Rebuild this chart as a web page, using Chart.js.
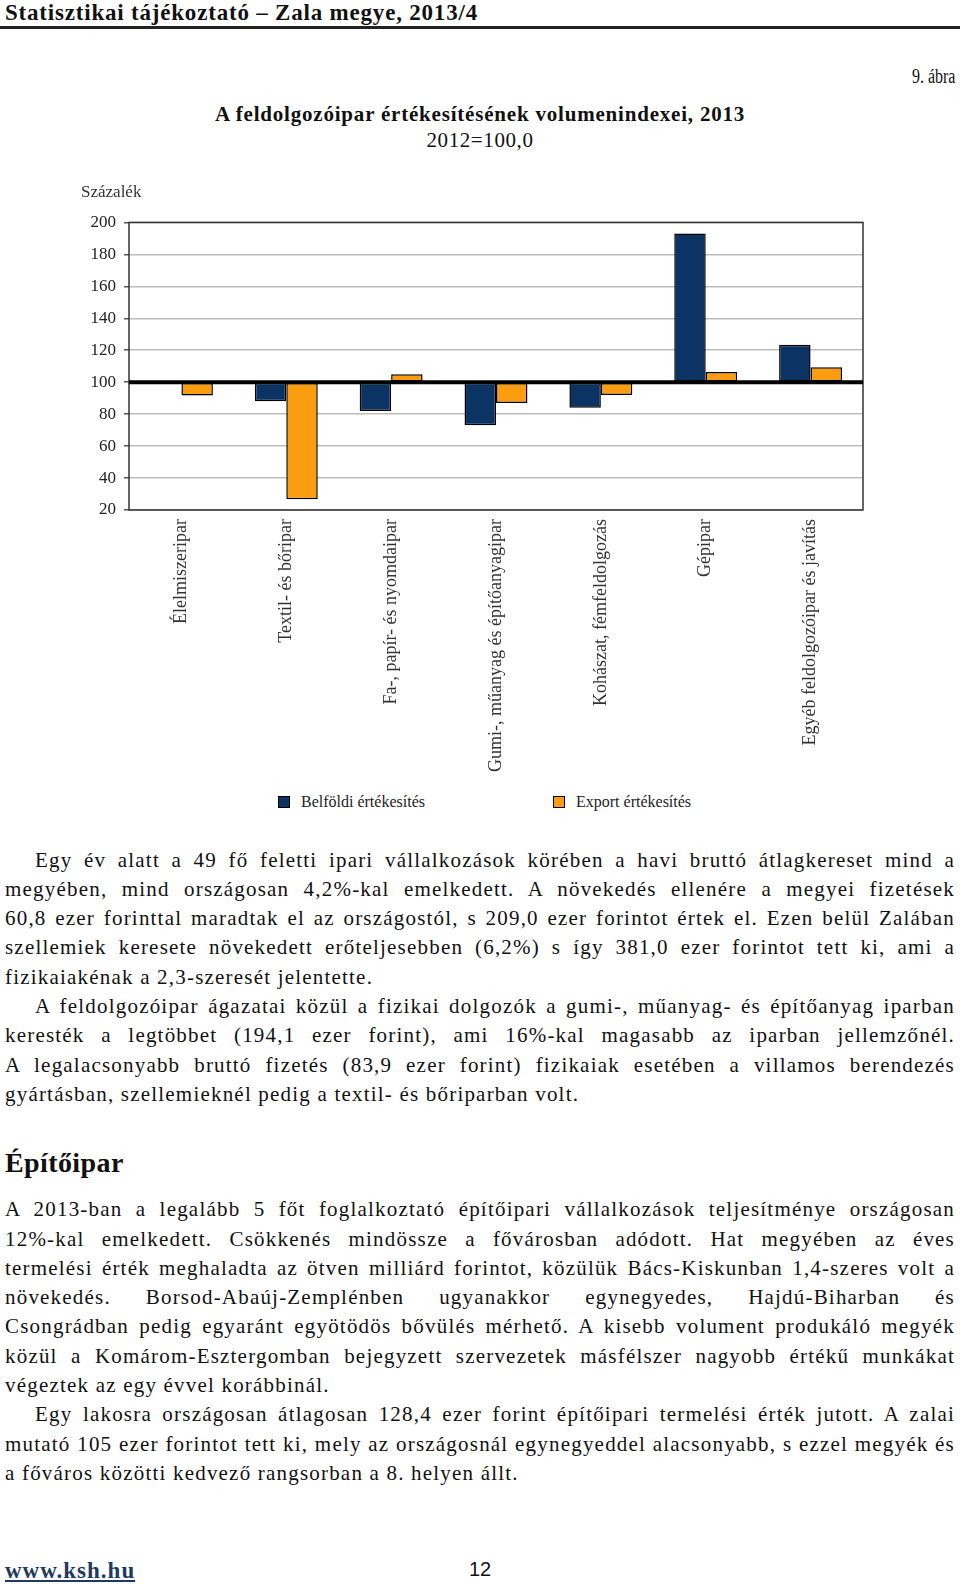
<!DOCTYPE html>
<html lang="hu">
<head>
<meta charset="utf-8">
<title>A feldolgozóipar értékesítésének volumenindexei, 2013</title>
<script src="https://cdn.jsdelivr.net/npm/chart.js@4.4.1/dist/chart.umd.min.js"></script>
<style>
  html, body { margin: 0; padding: 0; background: #fff; }
  body { width: 960px; height: 1585px; position: relative; overflow: hidden; font-family: 'Liberation Serif', serif; color: #111; }
  .abs { position: absolute; line-height: 1; white-space: nowrap; }
  #head { left: 5px; top: 1px; font-size: 23px; font-weight: bold; letter-spacing: 0.8px; }
  #rule { position: absolute; left: 0; top: 26px; width: 960px; height: 2.5px; background: #222; }
  #fig { right: 5px; top: 66px; font-size: 20px; transform: scaleX(0.8); transform-origin: right center; }
  #title { left: 0; width: 960px; text-align: center; top: 104px; font-size: 21px; font-weight: bold; letter-spacing: 0.8px; }
  #sub { left: 0; width: 960px; text-align: center; top: 130px; font-size: 21px; letter-spacing: 0.6px; }
  #chart { position: absolute; left: 60px; top: 175px; }
  #legend { position: absolute; left: 278px; top: 793px; display: flex; font-size: 16px; color: #222; }
  #legend .item { width: 275px; display: flex; align-items: center; }
  #legend .box { width: 10px; height: 10px; border: 1px solid #000; margin-right: 11px; }
  .txt { position: absolute; left: 5px; width: 950px; font-size: 21px; letter-spacing: 1.2px; line-height: 29.3px; }
  .txt div { white-space: nowrap; }
  .txt .j { text-align: justify; text-align-last: justify; }
  .txt .i { padding-left: 30px; }
  #h2 { left: 5px; top: 1149px; font-size: 28px; font-weight: bold; letter-spacing: 0.4px; }
  #www { left: 5px; top: 1559px; font-size: 23px; font-weight: bold; color: #1f3a60; text-decoration: underline; letter-spacing: 1px; }
  #page { left: 0; width: 960px; text-align: center; top: 1559px; font-family: 'Liberation Sans', sans-serif; font-size: 20px; }
</style>
</head>
<body>
<div class="abs" id="head">Statisztikai tájékoztató – Zala megye, 2013/4</div>
<div id="rule"></div>
<div class="abs" id="fig">9. ábra</div>
<div class="abs" id="title">A feldolgozóipar értékesítésének volumenindexei, 2013</div>
<div class="abs" id="sub">2012=100,0</div>

<canvas id="chart" width="840" height="610"></canvas>
<div id="legend"></div>

<div class="txt" style="top:845.6px">
  <div class="j i">Egy év alatt a 49 fő feletti ipari vállalkozások körében a havi bruttó átlagkereset mind a</div>
  <div class="j">megyében, mind országosan 4,2%-kal emelkedett. A növekedés ellenére a megyei fizetések</div>
  <div class="j">60,8 ezer forinttal maradtak el az országostól, s 209,0 ezer forintot értek el. Ezen belül Zalában</div>
  <div class="j">szellemiek keresete növekedett erőteljesebben (6,2%) s így 381,0 ezer forintot tett ki, ami a</div>
  <div>fizikaiakénak a 2,3-szeresét jelentette.</div>
  <div class="j i">A feldolgozóipar ágazatai közül a fizikai dolgozók a gumi-, műanyag- és építőanyag iparban</div>
  <div class="j">keresték a legtöbbet (194,1 ezer forint), ami 16%-kal magasabb az iparban jellemzőnél.</div>
  <div class="j">A legalacsonyabb bruttó fizetés (83,9 ezer forint) fizikaiak esetében a villamos berendezés</div>
  <div>gyártásban, szellemieknél pedig a textil- és bőriparban volt.</div>
</div>

<div class="abs" id="h2">Építőipar</div>

<div class="txt" style="top:1195.3px">
  <div class="j">A 2013-ban a legalább 5 főt foglalkoztató építőipari vállalkozások teljesítménye országosan</div>
  <div class="j">12%-kal emelkedett. Csökkenés mindössze a fővárosban adódott. Hat megyében az éves</div>
  <div class="j">termelési érték meghaladta az ötven milliárd forintot, közülük Bács-Kiskunban 1,4-szeres volt a</div>
  <div class="j">növekedés. Borsod-Abaúj-Zemplénben ugyanakkor egynegyedes, Hajdú-Biharban és</div>
  <div class="j">Csongrádban pedig egyaránt egyötödös bővülés mérhető. A kisebb volument produkáló megyék</div>
  <div class="j">közül a Komárom-Esztergomban bejegyzett szervezetek másfélszer nagyobb értékű munkákat</div>
  <div>végeztek az egy évvel korábbinál.</div>
  <div class="j i">Egy lakosra országosan átlagosan 128,4 ezer forint építőipari termelési érték jutott. A zalai</div>
  <div class="j">mutató 105 ezer forintot tett ki, mely az országosnál egynegyeddel alacsonyabb, s ezzel megyék és</div>
  <div>a főváros közötti kedvező rangsorban a 8. helyen állt.</div>
</div>

<div class="abs" id="www">www.ksh.hu</div>
<div class="abs" id="page">12</div>

<script>
// ágazatok
var categories = [
  "Élelmiszeripar",
  "Textil- és bőripar",
  "Fa-, papír- és nyomdaipar",
  "Gumi-, műanyag és építőanyagipar",
  "Kohászat, fémfeldolgozás",
  "Gépipar",
  "Egyéb feldolgozóipar és javítás"
];
// 2012 = 100,0
var domestic = [null, 88, 82, 73, 84, 193, 123.4];
var exportSales = [91.7, 26.8, 105, 87, 92, 106.3, 109.4];
var seriesNames = ["Belföldi értékesítés", "Export értékesítés"];
var baseValue = 100;
var yMin = 20, yMax = 200, yStep = 20;

var NAVY = "#0b3363";
var ORANGE = "#fb9d0f";
var FONT = "'Liberation Serif', serif";

// keret + vastag 100-as vonal a rudak fölé
var framePlugin = {
  id: "frame",
  afterDatasetsDraw: function(chart) {
    var ctx = chart.ctx, a = chart.chartArea;
    var y = chart.scales.y.getPixelForValue(baseValue);
    ctx.save();
    ctx.strokeStyle = "#333";
    ctx.lineWidth = 1.5;
    ctx.strokeRect(a.left, a.top, a.right - a.left, a.bottom - a.top);
    ctx.strokeStyle = "#000";
    ctx.lineWidth = 4;
    ctx.beginPath();
    ctx.moveTo(a.left, y);
    ctx.lineTo(a.right, y);
    ctx.stroke();
    ctx.restore();
  }
};

// html legend, a két elem messze egymástól
var htmlLegend = {
  id: "htmlLegend",
  afterUpdate: function(chart) {
    var box = document.getElementById("legend");
    box.innerHTML = "";
    var items = chart.options.plugins.legend.labels.generateLabels(chart);
    items.forEach(function(it) {
      var el = document.createElement("div");
      el.className = "item";
      var sw = document.createElement("span");
      sw.className = "box";
      sw.style.background = it.fillStyle;
      var tx = document.createElement("span");
      tx.textContent = it.text;
      el.appendChild(sw);
      el.appendChild(tx);
      box.appendChild(el);
    });
  }
};

var ctx = document.getElementById("chart").getContext("2d");
new Chart(ctx, {
  type: "bar",
  data: {
    labels: categories,
    datasets: [{
      label: seriesNames[0],
      data: domestic,
      backgroundColor: NAVY,
      borderColor: "#000",
      borderWidth: 1.5,
      borderSkipped: false,
      base: baseValue
    }, {
      label: seriesNames[1],
      data: exportSales,
      backgroundColor: ORANGE,
      borderColor: "#000",
      borderWidth: 1.5,
      borderSkipped: false,
      base: baseValue
    }]
  },
  options: {
    responsive: false,
    animation: false,
    datasets: {
      bar: { categoryPercentage: 0.6, barPercentage: 1.0 }
    },
    layout: { padding: { left: 21, right: 37, top: 0, bottom: 0 } },
    plugins: {
      legend: { display: false },
      tooltip: { enabled: false },
      title: {
        display: true,
        text: "Százalék",
        align: "start",
        color: "#333",
        font: { family: FONT, size: 17, weight: "normal" },
        padding: { top: 7, bottom: 20 }
      }
    },
    scales: {
      x: {
        grid: { display: false, drawTicks: false },
        border: { display: false },
        ticks: {
          autoSkip: false,
          maxRotation: 90,
          minRotation: 90,
          padding: 9,
          color: "#333",
          font: { family: FONT, size: 18 }
        },
        afterFit: function(s) { s.height = 275; }
      },
      y: {
        min: yMin,
        max: yMax,
        grid: {
          color: "#bdbdbd",
          lineWidth: 1.5,
          tickLength: 5,
          tickColor: "#555"
        },
        border: { display: false },
        ticks: {
          stepSize: yStep,
          padding: 8,
          color: "#222",
          font: { family: FONT, size: 17 }
        },
        afterFit: function(s) { s.width = 48; }
      }
    }
  },
  plugins: [framePlugin, htmlLegend]
});
</script>
</body>
</html>
